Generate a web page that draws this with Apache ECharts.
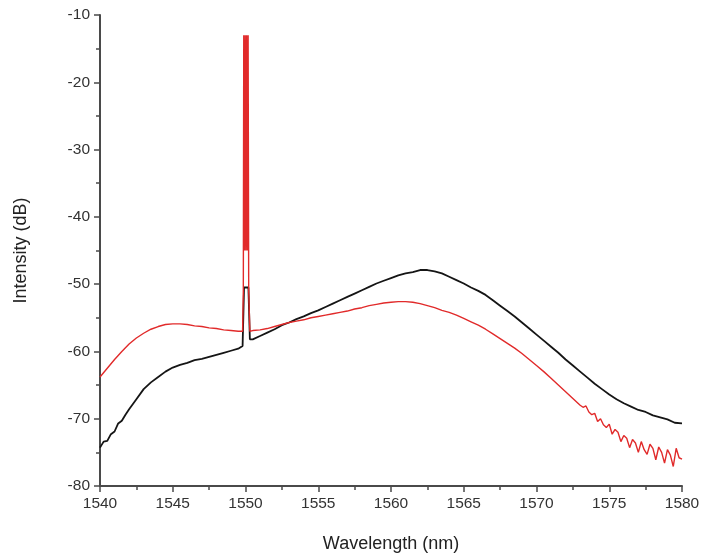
<!DOCTYPE html>
<html>
<head>
<meta charset="utf-8">
<script src="https://cdn.jsdelivr.net/npm/echarts@6/dist/echarts.min.js"></script>
<style>
  html, body { margin: 0; padding: 0; background: #fff; }
  #chart { width: 705px; height: 558px; }
</style>
</head>
<body>
<div id="chart"></div>
<script>
// black trace (wavelength nm, intensity dB)
const blackWl = [
    1540, 1540.25, 1540.5, 1540.75, 1541, 1541.25, 1541.5, 1541.75, 1542, 1542.5,
    1543, 1543.5, 1544, 1544.5, 1545, 1545.5, 1546, 1546.5, 1547, 1547.5,
    1548, 1548.5, 1549, 1549.5, 1549.8, 1549.9, 1550.2, 1550.3, 1550.5, 1551,
    1551.5, 1552, 1552.5, 1553, 1553.5, 1554, 1554.5, 1555, 1555.5, 1556,
    1556.5, 1557, 1557.5, 1558, 1558.5, 1559, 1559.5, 1560, 1560.5, 1561,
    1561.5, 1562, 1562.5, 1563, 1563.5, 1564, 1564.5, 1565, 1565.5, 1566,
    1566.5, 1567, 1567.5, 1568, 1568.5, 1569, 1569.5, 1570, 1570.5, 1571,
    1571.5, 1572, 1572.5, 1573, 1573.5, 1574, 1574.5, 1575, 1575.5, 1576,
    1576.5, 1577, 1577.5, 1578, 1578.5, 1579, 1579.5, 1580
];
const blackDb = [
    -74.3, -73.4, -73.3, -72.3, -71.9, -70.7, -70.3, -69.4, -68.6, -67.1,
    -65.6, -64.6, -63.8, -63.0, -62.4, -62.0, -61.7, -61.3, -61.1, -60.8,
    -60.5, -60.2, -59.9, -59.6, -59.2, -50.5, -50.5, -58.2, -58.2, -57.7,
    -57.2, -56.7, -56.1, -55.7, -55.2, -54.8, -54.3, -53.9, -53.4, -52.9,
    -52.4, -51.9, -51.4, -50.9, -50.4, -49.9, -49.5, -49.1, -48.7, -48.4,
    -48.2, -47.9, -47.9, -48.1, -48.4, -48.9, -49.4, -49.9, -50.5, -51.0,
    -51.6, -52.4, -53.2, -54.0, -54.8, -55.7, -56.6, -57.5, -58.4, -59.3,
    -60.2, -61.2, -62.1, -63.0, -63.9, -64.8, -65.6, -66.4, -67.1, -67.7,
    -68.2, -68.7, -69.0, -69.5, -69.8, -70.1, -70.6, -70.7
];

// red trace (wavelength nm, intensity dB)
const redWl = [
    1540, 1540.5, 1541, 1541.5, 1542, 1542.5, 1543, 1543.5, 1544, 1544.5,
    1545, 1545.5, 1546, 1546.5, 1547, 1547.5, 1548, 1548.5, 1549, 1549.5,
    1549.8, 1549.85, 1549.88, 1549.93, 1549.98, 1550.03, 1550.08, 1550.13, 1550.18, 1550.22,
    1550.3, 1550.5, 1551, 1551.5, 1552, 1552.5, 1553, 1553.5, 1554, 1554.5,
    1555, 1555.5, 1556, 1556.5, 1557, 1557.5, 1558, 1558.5, 1559, 1559.5,
    1560, 1560.5, 1561, 1561.5, 1562, 1562.5, 1563, 1563.5, 1564, 1564.5,
    1565, 1565.5, 1566, 1566.5, 1567, 1567.5, 1568, 1568.5, 1569, 1569.5,
    1570, 1570.5, 1571, 1571.5, 1572, 1572.5, 1573, 1573.2, 1573.4, 1573.6,
    1573.8, 1574, 1574.2, 1574.4, 1574.6, 1574.8, 1575, 1575.2, 1575.4, 1575.6,
    1575.8, 1576, 1576.2, 1576.4, 1576.6, 1576.8, 1577, 1577.2, 1577.4, 1577.6,
    1577.8, 1578, 1578.2, 1578.4, 1578.6, 1578.8, 1579, 1579.2, 1579.4, 1579.6,
    1579.8, 1580
];
const redDb = [
    -63.8, -62.5, -61.2, -60.0, -58.9, -58.0, -57.3, -56.7, -56.3, -56.0,
    -55.9, -55.9, -56.0, -56.2, -56.3, -56.5, -56.6, -56.8, -56.9, -57.0,
    -57.0, -51, -13, -45, -13, -45, -13, -45, -13, -51,
    -57.0, -56.9, -56.8, -56.6, -56.3, -56.0, -55.7, -55.5, -55.3, -55.0,
    -54.8, -54.6, -54.4, -54.2, -54.0, -53.7, -53.5, -53.2, -53.0, -52.8,
    -52.7, -52.6, -52.6, -52.7, -52.9, -53.2, -53.5, -53.9, -54.2, -54.6,
    -55.1, -55.6, -56.1, -56.7, -57.4, -58.1, -58.8, -59.5, -60.3, -61.2,
    -62.1, -63.0, -64.0, -65.0, -66.0, -67.0, -68.0, -68.3, -68.1, -69.0,
    -69.4, -69.2, -70.4, -70.0, -70.9, -71.3, -70.8, -72.3, -71.6, -72.0,
    -73.4, -72.5, -72.9, -74.3, -73.1, -73.6, -75.0, -73.4, -74.6, -75.3,
    -73.8, -74.4, -76.1, -74.2, -75.0, -76.6, -74.6, -75.4, -77.1, -74.4,
    -75.8, -76.0
];

const zip = (xs, ys) => xs.map((x, i) => [x, ys[i]]);

const chart = echarts.init(document.getElementById('chart'));

const axisColor = '#4a4a4a';
const labelFont = {
    color: '#333',
    fontFamily: 'Liberation Sans',
    fontSize: 15.5
};

chart.setOption({
    animation: false,
    grid: { left: 100, right: 23, top: 15, bottom: 70 },
    xAxis: {
        type: 'value',
        min: 1540,
        max: 1580,
        interval: 5,
        name: 'Wavelength (nm)',
        nameLocation: 'middle',
        nameGap: 49,
        nameTextStyle: { color: '#222', fontFamily: 'Liberation Sans', fontSize: 18 },
        axisLine: { show: true, lineStyle: { color: axisColor, width: 2 } },
        axisTick: { show: true, inside: false, length: 6, lineStyle: { color: axisColor, width: 1.5 } },
        minorTick: { show: true, splitNumber: 2, length: 4, lineStyle: { color: axisColor, width: 1.5 } },
        axisLabel: Object.assign({ margin: 10, formatter: v => String(v) }, labelFont),
        splitLine: { show: false }
    },
    yAxis: {
        type: 'value',
        min: -80,
        max: -10,
        interval: 10,
        name: 'Intensity (dB)',
        nameLocation: 'middle',
        nameGap: 70,
        nameTextStyle: { color: '#222', fontFamily: 'Liberation Sans', fontSize: 18 },
        axisLine: { show: true, lineStyle: { color: axisColor, width: 2 } },
        axisTick: { show: true, inside: false, length: 6, lineStyle: { color: axisColor, width: 1.5 } },
        minorTick: { show: true, splitNumber: 2, length: 4, lineStyle: { color: axisColor, width: 1.5 } },
        axisLabel: Object.assign({ margin: 10 }, labelFont),
        splitLine: { show: false }
    },
    series: [
        {
            name: 'black',
            type: 'line',
            data: zip(blackWl, blackDb),
            showSymbol: false,
            symbol: 'none',
            lineStyle: { color: '#151515', width: 1.8 },
            z: 2
        },
        {
            name: 'red',
            type: 'line',
            data: zip(redWl, redDb),
            showSymbol: false,
            symbol: 'none',
            lineStyle: { color: '#e12a2a', width: 1.4 },
            z: 3
        }
    ]
});
</script>
</body>
</html>
